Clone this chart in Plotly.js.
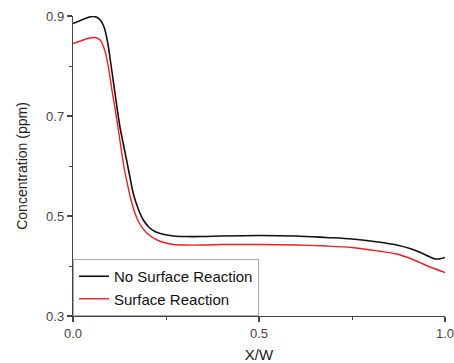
<!DOCTYPE html>
<html>
<head>
<meta charset="utf-8">
<script src="https://cdn.plot.ly/plotly-3.0.1.min.js"></script>
<style>html,body{margin:0;padding:0;background:#fff;}#chart{width:454px;height:363px;}</style>
</head>
<body>
<div id="chart"></div>
<script>
var noReactionX = [0, 0.02, 0.04, 0.053, 0.065, 0.073, 0.08, 0.086, 0.095, 0.104, 0.113, 0.126, 0.135, 0.144, 0.153, 0.162, 0.175, 0.189, 0.205, 0.22, 0.245, 0.27, 0.3, 0.35, 0.4, 0.5, 0.6, 0.68, 0.75, 0.82, 0.87, 0.91, 0.94, 0.96, 0.975, 0.99, 1.0];
var noReactionY = [0.885, 0.891, 0.897, 0.899, 0.897, 0.892, 0.884, 0.872, 0.839, 0.792, 0.745, 0.679, 0.645, 0.612, 0.578, 0.545, 0.515, 0.492, 0.477, 0.469, 0.463, 0.460, 0.459, 0.459, 0.460, 0.461, 0.460, 0.457, 0.454, 0.448, 0.442, 0.434, 0.425, 0.418, 0.414, 0.415, 0.417];
var reactionX = [0, 0.02, 0.04, 0.059, 0.073, 0.086, 0.095, 0.104, 0.113, 0.124, 0.137, 0.146, 0.155, 0.166, 0.178, 0.198, 0.229, 0.27, 0.3, 0.35, 0.4, 0.5, 0.6, 0.68, 0.75, 0.82, 0.87, 0.91, 0.95, 1.0];
var reactionY = [0.845, 0.850, 0.855, 0.857, 0.852, 0.830, 0.798, 0.755, 0.715, 0.662, 0.598, 0.565, 0.535, 0.507, 0.486, 0.466, 0.451, 0.443, 0.442, 0.442, 0.443, 0.443, 0.442, 0.440, 0.437, 0.430, 0.424, 0.414, 0.401, 0.387];
var seriesNames = ["No Surface Reaction", "Surface Reaction"];
var xTickVals = [0, 0.5, 1.0];
var yTickVals = [0.3, 0.5, 0.7, 0.9];

var traces = [
  {x: noReactionX, y: noReactionY, name: seriesNames[0], type: 'scatter', mode: 'lines',
   line: {color: '#111111', width: 1.6, shape: 'spline', smoothing: 0.8}},
  {x: reactionX, y: reactionY, name: seriesNames[1], type: 'scatter', mode: 'lines',
   line: {color: '#ee1c25', width: 1.4, shape: 'spline', smoothing: 0.8}}
];

var axisFont = {family: 'Liberation Sans, Arial, sans-serif', size: 13, color: '#444'};
var layout = {
  width: 454, height: 363,
  margin: {l: 73, r: 9, t: 16, b: 47},
  paper_bgcolor: '#fff', plot_bgcolor: '#fff',
  showlegend: true,
  legend: {x: 0, y: 0, xanchor: 'left', yanchor: 'bottom', bordercolor: '#aaaaaa', borderwidth: 1,
           bgcolor: 'rgba(255,255,255,0)', font: {family: 'Liberation Sans, Arial, sans-serif', size: 15, color: '#111'},
           tracegroupgap: 0, itemwidth: 30},
  xaxis: {
    range: [0, 1], tickvals: xTickVals, ticktext: xTickVals.map(function(v){return v.toFixed(1);}),
    ticklabeloverflow: 'allow',
    showgrid: false, zeroline: false, showline: true, linecolor: '#444', linewidth: 1.2,
    ticks: 'outside', ticklen: 5, tickwidth: 1.2, tickcolor: '#444', tickfont: axisFont,
    minor: {ticks: 'outside', ticklen: 3, tickwidth: 1, tickcolor: '#444', dtick: 0.25, tick0: 0, showgrid: false},
    title: {text: 'X/W', font: {family: 'Liberation Sans, Arial, sans-serif', size: 15, color: '#222'}, standoff: 9}
  },
  yaxis: {
    range: [0.3, 0.9], tickvals: yTickVals, ticktext: yTickVals.map(function(v){return v.toFixed(1);}),
    showgrid: false, zeroline: false, showline: true, linecolor: '#444', linewidth: 1.2,
    ticks: 'outside', ticklen: 5, tickwidth: 1.2, tickcolor: '#444', tickfont: axisFont,
    minor: {ticks: 'outside', ticklen: 3, tickwidth: 1, tickcolor: '#444', dtick: 0.1, tick0: 0.3, showgrid: false},
    title: {text: 'Concentration (ppm)', font: {family: 'Liberation Sans, Arial, sans-serif', size: 14, color: '#222'}, standoff: 15}
  }
};

Plotly.newPlot('chart', traces, layout, {staticPlot: true, displayModeBar: false});
</script>
</body>
</html>
